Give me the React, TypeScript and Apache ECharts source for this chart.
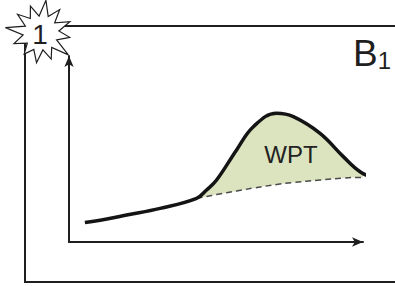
import React, { useEffect, useRef } from "react";
import * as echarts from "echarts";

// Main curve (x in % of axis length, y in % of axis height)
const curveX = [5.4, 12.0, 19.6, 31.0, 43.4, 46.8, 50.2, 57.0, 62.7, 70.6, 76.3, 85.4, 93.3, 99.0, 104.1];
const curveY = [10.5, 12.1, 14.5, 18.1, 23.5, 28.0, 33.3, 49.5, 62.0, 69.2, 67.4, 58.4, 45.9, 37.8, 34.2];
// Dashed baseline under the peak
const baseX = [43.4, 46.8, 50.2, 57.0, 62.7, 70.6, 76.3, 85.4, 93.3, 99.0, 104.1];
const baseY = [23.5, 24.5, 25.5, 27.4, 29.0, 30.9, 32.0, 33.3, 34.4, 34.7, 34.2];
const areaLabel = "WPT";
const panelLabel = "B";
const panelSub = "1";
const badge = "1";
// starburst radii (outer/inner alternating)
const burstR = [33, 18, 30, 17, 31, 18, 29, 17, 35, 18, 28, 17, 30, 18, 27, 17, 29, 18, 36, 17, 30, 18, 29, 17];

export default function App() {
  const ref = useRef<HTMLDivElement>(null);
  useEffect(() => {
    if (!ref.current) return;
    const chart = echarts.init(ref.current, null, { renderer: "svg" });
    const mainData = curveX.map((x, i) => [x, curveY[i]]);
    const splitIdx = curveX.indexOf(baseX[0]);
    const upperData = mainData.slice(splitIdx);
    const baseData = baseX.map((x, i) => [x, baseY[i]]);
    // white mask below the dashed line, starting on the curve just before the split
    const maskData = [mainData[splitIdx - 1], ...baseData];
    const cx = 41, cy = 33;
    const pts = burstR.map((r, i) => {
      const a = -Math.PI / 2 + (i * 2 * Math.PI) / burstR.length + 0.15;
      return [cx + r * Math.cos(a), cy + r * Math.sin(a)];
    });
    const ink = "#1f1f1f";
    const axisCommon = {
      type: "value", min: 0, max: 100, z: 20,
      axisLine: { show: true, symbol: ["none", "arrow"], symbolSize: [7, 11], lineStyle: { color: ink, width: 2 } },
      axisTick: { show: false }, axisLabel: { show: false }, splitLine: { show: false },
    };
    chart.setOption({
      animation: false,
      grid: { left: 69, top: 56, right: 32, bottom: 44 },
      xAxis: { ...axisCommon },
      yAxis: { ...axisCommon },
      series: [
        {
          type: "line", data: upperData, smooth: 0.4, showSymbol: false, clip: false, z: 2,
          lineStyle: { width: 0, opacity: 0 },
          areaStyle: { color: "#dce4bf", opacity: 1, origin: "start" },
        },
        {
          type: "line", data: maskData, smooth: 0.4, showSymbol: false, clip: false, z: 3,
          lineStyle: { width: 0, opacity: 0 },
          areaStyle: { color: "#ffffff", opacity: 1, origin: "start" },
        },
        {
          type: "line", data: baseData, smooth: 0.4, showSymbol: false, clip: false, z: 4,
          lineStyle: { color: "#4a4a4a", width: 1.5, type: [6, 4] },
        },
        {
          type: "line", data: mainData, smooth: 0.4, showSymbol: false, clip: false, z: 5,
          lineStyle: { color: "#141414", width: 3.5 },
        },
      ],
      graphic: [
        { type: "line", shape: { x1: 60, y1: 26, x2: 395, y2: 26 }, style: { stroke: ink, lineWidth: 2 } },
        { type: "line", shape: { x1: 25, y1: 35, x2: 25, y2: 282 }, style: { stroke: ink, lineWidth: 2 } },
        { type: "line", shape: { x1: 24, y1: 282, x2: 395, y2: 282 }, style: { stroke: ink, lineWidth: 2 } },
        { type: "polygon", shape: { points: pts }, style: { fill: "#fff", stroke: ink, lineWidth: 1.2 }, z: 10 },
        {
          type: "text", x: 40, y: 34, z: 11,
          style: { text: badge, fontSize: 28, fontFamily: "Liberation Sans", fill: ink, align: "center", verticalAlign: "middle" },
        },
        {
          type: "text", x: 291, y: 154, z: 11,
          style: { text: areaLabel, fontSize: 24, fontFamily: "Liberation Sans", fill: "#222", align: "center", verticalAlign: "middle" },
        },
        {
          type: "text", x: 353, y: 72, z: 11,
          style: {
            text: `{b|${panelLabel}}{s|${panelSub}}`, align: "left", verticalAlign: "bottom",
            rich: {
              b: { fontSize: 37, fontFamily: "Liberation Sans", fill: ink, verticalAlign: "bottom" },
              s: { fontSize: 24, fontFamily: "Liberation Sans", fill: ink, verticalAlign: "bottom" },
            },
          },
        },
      ],
    });
    return () => chart.dispose();
  }, []);
  return <div ref={ref} style={{ position: "fixed", left: 0, top: 0, width: 395, height: 286, background: "#fff" }} />;
}
